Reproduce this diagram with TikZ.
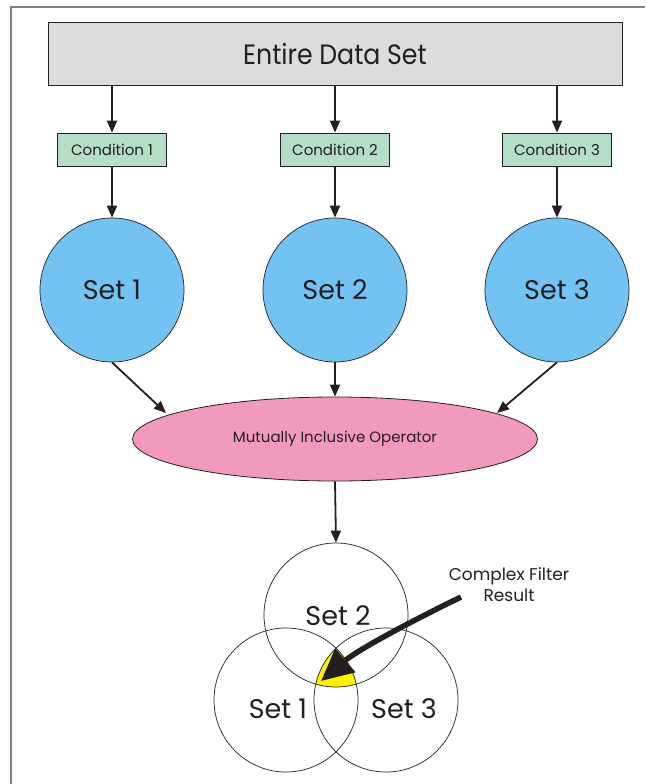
\documentclass[tikz,border=0pt]{standalone}
\usepackage{fontspec}
\setmainfont{Poppins}
\usetikzlibrary{shapes.geometric,arrows.meta}
\definecolor{ink}{HTML}{231F20}
\definecolor{boxgray}{HTML}{DCDCDC}
\definecolor{condgreen}{HTML}{B3DEC8}
\definecolor{setblue}{HTML}{73C3F2}
\definecolor{oppink}{HTML}{F29ABE}
\definecolor{hiyellow}{HTML}{FFF200}
\definecolor{framegray}{HTML}{808080}
\tikzset{
  flow/.style={draw=ink, line width=1.8pt, -{Triangle[length=12pt,width=10pt]}},
  topbox/.style={draw=ink, line width=0.9pt, fill=boxgray, minimum width=574pt, minimum height=63pt, inner sep=0pt, font=\fontsize{28}{32}\selectfont, text=ink},
  condbox/.style={draw=ink, line width=0.8pt, fill=condgreen, minimum width=109pt, minimum height=33pt, inner sep=0pt, font=\fontsize{15}{17}\selectfont, text=ink},
  setcirc/.style={circle, draw=ink, line width=0.7pt, fill=setblue, minimum size=144pt, inner sep=0pt, font=\fontsize{27}{30}\selectfont, text=ink},
  opell/.style={ellipse, draw=ink, line width=0.8pt, fill=oppink, minimum width=405pt, minimum height=84pt, inner sep=0pt, font=\fontsize{15}{17}\selectfont, text=ink},
  venn/.style={circle, draw=ink, line width=0.7pt, minimum size=144pt, inner sep=0pt},
  vennlabel/.style={font=\fontsize{27}{30}\selectfont, text=ink, inner sep=0pt},
  note/.style={font=\fontsize{17}{21}\selectfont, text=ink, align=center, inner sep=0pt},
  bigarrow/.style={draw=ink, line width=5.5pt, -{Triangle[length=32pt,width=30pt]}}
}
\begin{document}
\begin{tikzpicture}[x=1pt,y=-1pt]
\useasboundingbox (0,0) rectangle (645,784);
% frame
\draw[framegray, line width=2pt] (11,784) -- (11,7) -- (645,7);

% top box
\node[topbox] (data) at (335,54) {\scalebox{0.9}[1]{Entire Data Set}};

% conditions
\node[condbox] (c1) at (112,149.5) {Condition 1};
\node[condbox] (c2) at (335,149.5) {Condition 2};
\node[condbox] (c3) at (557,149.5) {Condition 3};

% sets
\node[setcirc] (s1) at (112,290) {Set 1};
\node[setcirc] (s2) at (335,290) {Set 2};
\node[setcirc] (s3) at (557,290) {Set 3};

% operator
\node[opell] (op) at (335,439) {Mutually Inclusive Operator};
\coordinate (e1) at (166,413);
\coordinate (e3) at (497,413);

% arrows top
\draw[flow] (data.south -| c1) -- (c1.north);
\draw[flow] (data.south -| c2) -- (c2.north);
\draw[flow] (data.south -| c3) -- (c3.north);
\draw[flow] (c1.south) -- (s1.north);
\draw[flow] (c2.south) -- (s2.north);
\draw[flow] (c3.south) -- (s3.north);
\draw[flow] (s1.south) -- (e1);
\draw[flow] (s2.south) -- (op.north);
\draw[flow] (s3.south) -- (e3);

% venn yellow region
\begin{scope}
  \clip (286,700) circle (72pt);
  \clip (386,700) circle (72pt);
  \fill[hiyellow] (336,615) circle (72pt);
\end{scope}
\node[venn] (v2) at (336,615) {};
\node[venn] (v1) at (286,700) {};
\node[venn] (v3) at (386,700) {};
\node[vennlabel] (l2) at (338,616) {Set 2};
\node[vennlabel] (l1) at (278,709) {Set 1};
\node[vennlabel] (l3) at (404,709) {Set 3};

\draw[flow] (op.south) -- (v2.north);

% note
\node[note] (res) at (509,585) {Complex Filter\\Result};
\coordinate (tip) at (321,681);
\draw[bigarrow] (461,597) .. controls (420,617) and (360,648) .. (tip);
\end{tikzpicture}
\end{document}
